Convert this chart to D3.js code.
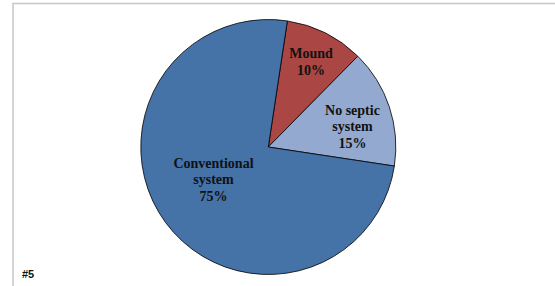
<!DOCTYPE html>
<html>
<head>
<meta charset="utf-8">
<script src="https://cdn.jsdelivr.net/npm/d3@7/dist/d3.min.js"></script>
<style>
  html, body { margin: 0; padding: 0; background: #fff; }
  svg { display: block; }
</style>
</head>
<body>
<svg id="chart" width="555" height="286"></svg>
<script>
// slice data, clockwise from the top
const categories = ["Mound", "No septic system", "Conventional system"];
const labelLines = [["Mound"], ["No septic", "system"], ["Conventional", "system"]];
const values = [10, 15, 75];
const sliceColors = ["#AA4643", "#93A9CF", "#4572A7"];
const chartTag = "#5";

const svg = d3.select("#chart");
const width = +svg.attr("width");
const height = +svg.attr("height");

// frame (top and left edges visible)
svg.append("path")
  .attr("d", "M13,286 L13,3.5 L555,3.5")
  .attr("fill", "none")
  .attr("stroke", "#c6c6c6")
  .attr("stroke-width", 1.5);

const cx = 268.3, cy = 147, radius = 127.5;
const startOffset = 8.6 * Math.PI / 180;

const pie = d3.pie()
  .sort(null)
  .value((d) => d)
  .startAngle(startOffset)
  .endAngle(startOffset + Math.PI * 2);

const arcs = pie(values);
const arc = d3.arc().innerRadius(0).outerRadius(radius);

const g = svg.append("g").attr("transform", `translate(${cx}, ${cy})`);

g.selectAll(".slice")
  .data(arcs)
  .enter()
  .append("path")
  .attr("class", "slice")
  .attr("d", arc)
  .style("fill", (d, i) => sliceColors[i])
  .style("stroke", "#000")
  .style("stroke-width", 0.8)
  .style("stroke-linejoin", "round");

// label placement radius as a fraction of the pie radius
const labelFrac = [0.75, 0.68, 0.5];
const labelAngleShift = [0, 0.08, 0.1];
const lineH = 16.5;

arcs.forEach((a, i) => {
  const mid = (a.startAngle + a.endAngle) / 2 + labelAngleShift[i];
  const r = radius * labelFrac[i];
  const x = r * Math.sin(mid);
  const y = -r * Math.cos(mid);
  const lines = labelLines[i].concat([values[i] + "%"]);
  const t = g.append("text")
    .attr("text-anchor", "middle")
    .style("font-family", "'Liberation Serif', 'Times New Roman', serif")
    .style("font-weight", "bold")
    .style("font-size", "14px")
    .style("fill", "#111");
  lines.forEach((line, k) => {
    t.append("tspan")
      .attr("x", x)
      .attr("y", y + (k - (lines.length - 1) / 2) * lineH)
      .attr("dy", "0.35em")
      .text(line);
  });
});

svg.append("text")
  .attr("x", 22)
  .attr("y", 278)
  .style("font-family", "'Liberation Sans', Arial, sans-serif")
  .style("font-weight", "bold")
  .style("font-size", "11px")
  .style("fill", "#111")
  .text(chartTag);
</script>
</body>
</html>
